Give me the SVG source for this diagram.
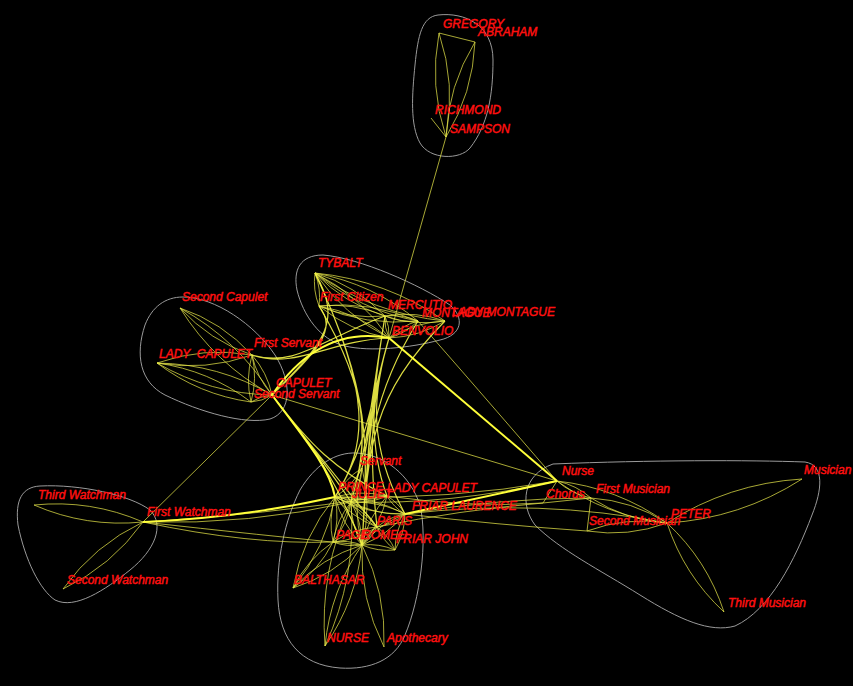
<svg xmlns="http://www.w3.org/2000/svg" width="853" height="686" viewBox="0 0 853 686">
<style>
.t{fill:none;stroke:#e8e84a;stroke-opacity:.72;stroke-width:1}
.b{fill:none;stroke:#f4f448;stroke-opacity:.9;stroke-width:1.2}
.T{fill:none;stroke:#ffff3a;stroke-width:2}
.h{fill:none;stroke:#9a9a9a;stroke-width:1}
text{font-family:"Liberation Sans",Arial,sans-serif;font-size:12px;font-style:italic;fill:#ff1010;stroke:#ff1010;stroke-width:.45;white-space:pre}
</style>
<defs><path id="L" d="M0 0Q.5 .13 1 0Q.5 -.13 0 0" style="vector-effect:non-scaling-stroke"/></defs>
<rect width="853" height="686" fill="#000"/>
<g id="hulls" class="h">
<path d="M438 15C465 12 493 25 493 60C493 95 488 125 470 148C460 160 430 160 420 143C410 125 412 95 415 65C418 35 422 17 438 15Z"/>
<path d="M323 255C360 258 420 285 450 305C465 318 462 335 440 340C410 348 370 352 345 346C320 340 303 315 297 290C293 270 300 255 323 255Z"/>
<path d="M183 297C215 297 255 325 275 355C292 382 292 412 270 419C245 425 200 412 165 395C140 382 135 355 145 325C152 307 165 297 183 297Z"/>
<path d="M357 453C385 455 410 475 420 505C428 540 420 600 405 635C395 660 370 670 340 668C300 665 280 640 278 600C276 560 285 520 300 490C315 465 335 452 357 453Z"/>
<path d="M553 464C650 460 750 460 805 462C825 465 822 490 812 515C795 560 770 610 735 626C710 633 680 620 640 595C600 570 560 550 535 525C520 505 522 475 553 464Z"/>
<path d="M40 486C80 484 130 495 150 510C165 525 155 550 130 570C105 590 75 610 55 600C40 590 25 560 18 525C15 500 22 487 40 486Z"/>
</g>
<g id="edges">
<g class="t">
<use href="#L" transform="matrix(7 104 -104 7 439 33)"/>
<use href="#L" transform="matrix(-29 95 -95 -29 475 42)"/>
<use href="#L" transform="matrix(4 33 -33 4 315 273)"/>
<use href="#L" transform="matrix(70 43 -43 70 315 273)"/>
<use href="#L" transform="matrix(74 65 -65 74 315 273)"/>
<use href="#L" transform="matrix(103 48 -48 103 315 273)"/>
<use href="#L" transform="matrix(130 48 -48 130 315 273)"/>
<use href="#L" transform="matrix(66 10 -10 66 319 306)"/>
<use href="#L" transform="matrix(70 32 -32 70 319 306)"/>
<use href="#L" transform="matrix(99 15 -15 99 319 306)"/>
<use href="#L" transform="matrix(4 22 -22 4 385 316)"/>
<use href="#L" transform="matrix(-29 17 -17 -29 418 321)"/>
<use href="#L" transform="matrix(-56 17 -17 -56 445 321)"/>
<use href="#L" transform="matrix(33 5 -5 33 385 316)"/>
<use href="#L" transform="matrix(60 5 -5 60 385 316)"/>
<use href="#L" transform="matrix(92 87 -87 92 180 308)"/>
<use href="#L" transform="matrix(72 47 -47 72 180 308)"/>
<use href="#L" transform="matrix(115 32 -32 115 157 363)"/>
<use href="#L" transform="matrix(95 -8 8 95 157 363)"/>
<use href="#L" transform="matrix(94 39 -39 94 157 363)"/>
<use href="#L" transform="matrix(20 40 -40 20 252 355)"/>
<use href="#L" transform="matrix(-1 47 -47 -1 252 355)"/>
<use href="#L" transform="matrix(21 -7 7 21 251 402)"/>
<use href="#L" transform="matrix(109 17 -17 109 34 505)"/>
<use href="#L" transform="matrix(80 -67 67 80 63 589)"/>
<use href="#L" transform="matrix(-37 101 -101 -37 362 545)"/>
<use href="#L" transform="matrix(22 102 -102 22 362 545)"/>
<use href="#L" transform="matrix(-69 43 -43 -69 362 545)"/>
<use href="#L" transform="matrix(-40 46 -46 -40 333 542)"/>
<use href="#L" transform="matrix(-42 91 -91 -42 335 497)"/>
<use href="#L" transform="matrix(-26 144 -144 -26 351 502)"/>
<use href="#L" transform="matrix(16 5 -5 16 335 497)"/>
<use href="#L" transform="matrix(27 48 -48 27 335 497)"/>
<use href="#L" transform="matrix(42 30 -30 42 335 497)"/>
<use href="#L" transform="matrix(70 17 -17 70 335 497)"/>
<use href="#L" transform="matrix(-2 45 -45 -2 335 497)"/>
<use href="#L" transform="matrix(52 -1 1 52 335 497)"/>
<use href="#L" transform="matrix(11 43 -43 11 351 502)"/>
<use href="#L" transform="matrix(36 -6 6 36 351 502)"/>
<use href="#L" transform="matrix(54 12 -12 54 351 502)"/>
<use href="#L" transform="matrix(26 25 -25 26 351 502)"/>
<use href="#L" transform="matrix(-18 40 -40 -18 351 502)"/>
<use href="#L" transform="matrix(15 -18 18 15 362 545)"/>
<use href="#L" transform="matrix(43 -31 31 43 362 545)"/>
<use href="#L" transform="matrix(33 5 -5 33 362 545)"/>
<use href="#L" transform="matrix(25 -49 49 25 362 545)"/>
<use href="#L" transform="matrix(-29 -3 3 -29 362 545)"/>
<use href="#L" transform="matrix(28 -13 13 28 377 527)"/>
<use href="#L" transform="matrix(-10 36 -36 -10 405 514)"/>
<use href="#L" transform="matrix(-27 29 -29 -27 362 468)"/>
<use href="#L" transform="matrix(-11 34 -34 -11 362 468)"/>
<use href="#L" transform="matrix(0 77 -77 0 362 468)"/>
<use href="#L" transform="matrix(44 -15 15 44 333 542)"/>
<use href="#L" transform="matrix(18 23 -23 18 377 527)"/>
<use href="#L" transform="matrix(18 18 -18 18 387 496)"/>
<use href="#L" transform="matrix(110 42 -42 110 557 481)"/>
<use href="#L" transform="matrix(34 17 -17 34 557 481)"/>
<use href="#L" transform="matrix(76 25 -25 76 591 498)"/>
<use href="#L" transform="matrix(80 -8 8 80 587 531)"/>
<use href="#L" transform="matrix(135 -44 44 135 667 523)"/>
<use href="#L" transform="matrix(57 89 -89 57 667 523)"/>
<path d="M439 33L475 42M431 118L446 137M446 137L389 338M591 498L587 531M557 481L543 503M543 503L591 498M143 522L272 395M272 395L557 481"/>
<path d="M418 321Q470 380 557 481M143 522Q250 525 351 502M143 522Q260 535 362 545M143 522Q250 545 333 542M143 522Q260 515 387 496M351 502Q450 505 557 481M335 497Q450 500 557 481M387 496Q470 508 543 503M377 527Q460 510 543 503M405 514Q500 498 591 498M405 514Q500 525 587 531M405 514Q540 498 667 523"/>
</g>
<g class="b">
<path d="M315 273C372 395 368 445 335 497M315 273C372 395 368 445 362 545M319 306C372 395 368 445 362 545M319 306C372 395 368 445 351 502M385 316C372 395 368 445 362 545M385 316C372 395 368 445 351 502M385 316C372 395 368 445 387 496M389 338C372 395 368 445 362 545M389 338C372 395 368 445 351 502M389 338C372 395 368 445 335 497M389 338C372 395 368 445 362 468M389 338C372 395 368 445 405 514M389 338C372 395 368 445 377 527M418 321C372 395 368 445 362 545M445 321C372 395 368 445 362 545M315 273C372 395 368 445 351 502"/>
<path d="M315 273C345 325 320 345 272 395M319 306C338 330 318 350 272 395M252 355C295 368 320 340 385 316M252 355C295 370 330 340 389 338"/>
<path d="M272 395C310 445 330 470 351 502M272 395C310 445 335 475 362 545M272 395C310 445 335 470 387 496M272 395C310 445 335 475 377 527"/>
</g>
<g class="T">
<path d="M272 395Q320 325 389 338"/>
<path d="M389 338L557 481"/>
<path d="M143 522Q240 518 335 497"/>
<path d="M405 514L557 481"/>
<path d="M272 395C310 445 330 470 335 497"/>
</g>
</g>
<g id="n-gregory"><text x="443" y="28">GREGORY</text></g>
<g id="n-abraham"><text x="478" y="36">ABRAHAM</text></g>
<g id="n-richmond"><text x="435" y="114">RICHMOND</text></g>
<g id="n-sampson"><text x="450" y="133">SAMPSON</text></g>
<g id="n-tybalt"><text x="318" y="267">TYBALT</text></g>
<g id="n-first-citizen"><text x="320" y="301">First Citizen</text></g>
<g id="n-mercutio"><text x="388" y="309">MERCUTIO</text></g>
<g id="n-montague"><text x="422" y="317">MONTAGUE</text></g>
<g id="n-lady-montague"><text x="452" y="316">LADY MONTAGUE</text></g>
<g id="n-benvolio"><text x="392" y="335">BENVOLIO</text></g>
<g id="n-second-capulet"><text x="182" y="301">Second Capulet</text></g>
<g id="n-lady-capulet-1"><text x="159" y="358">LADY  CAPULET</text></g>
<g id="n-first-servant"><text x="254" y="347">First Servant</text></g>
<g id="n-capulet"><text x="276" y="387">CAPULET</text></g>
<g id="n-second-servant"><text x="254" y="398">Second Servant</text></g>
<g id="n-servant"><text x="360" y="465">Servant</text></g>
<g id="n-prince"><text x="338" y="491">PRINCE</text></g>
<g id="n-juliet"><text x="352" y="498">JULIET</text></g>
<g id="n-lady-capulet"><text x="387" y="492">LADY CAPULET</text></g>
<g id="n-friar-laurence"><text x="412" y="510">FRIAR LAURENCE</text></g>
<g id="n-paris"><text x="377" y="525">PARIS</text></g>
<g id="n-page"><text x="336" y="539">PAGE</text></g>
<g id="n-romeo"><text x="362" y="539">ROMEO</text></g>
<g id="n-friar-john"><text x="396" y="543">FRIAR JOHN</text></g>
<g id="n-balthasar"><text x="294" y="584">BALTHASAR</text></g>
<g id="n-nurse-upper"><text x="327" y="642">NURSE</text></g>
<g id="n-apothecary"><text x="387" y="642">Apothecary</text></g>
<g id="n-nurse"><text x="562" y="475">Nurse</text></g>
<g id="n-chorus"><text x="546" y="498">Chorus</text></g>
<g id="n-first-musician"><text x="596" y="493">First Musician</text></g>
<g id="n-second-musician"><text x="589" y="525">Second Musician</text></g>
<g id="n-peter"><text x="671" y="518">PETER</text></g>
<g id="n-musician"><text x="804" y="474">Musician</text></g>
<g id="n-third-musician"><text x="728" y="607">Third Musician</text></g>
<g id="n-third-watchman"><text x="38" y="499">Third Watchman</text></g>
<g id="n-first-watchman"><text x="147" y="516">First Watchman</text></g>
<g id="n-second-watchman"><text x="67" y="584">Second Watchman</text></g>
</svg>
